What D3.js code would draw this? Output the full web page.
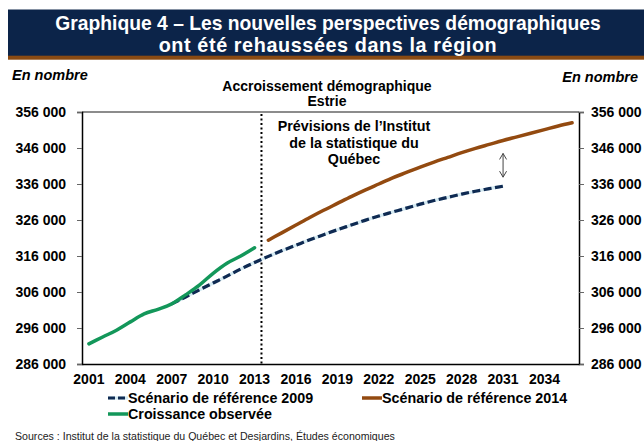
<!DOCTYPE html>
<html><head><meta charset="utf-8">
<script src="https://cdn.jsdelivr.net/npm/d3@7"></script>
<style>body{margin:0;background:#fff}svg{display:block;font-family:Arial,"Liberation Sans",sans-serif}</style>
</head><body><svg id="c" width="644" height="441"></svg>
<script>
const years = d3.range(2001, 2037);
const tickYears = [2001,2004,2007,2010,2013,2016,2019,2022,2025,2028,2031,2034];
const yTicks = [286000,296000,306000,316000,326000,336000,346000,356000];
const observedYears = d3.range(2001, 2014);
const observed = [291.6,293.5,295.4,297.7,299.9,301.2,302.7,305.2,307.9,311.2,314.0,316.0,318.3];
const scen2009Years = d3.range(2007, 2032);
const scen2009 = [302.7,304.6,306.6,308.5,310.4,312.4,314.2,315.9,317.5,319.0,320.5,321.9,323.3,324.6,325.9,327.1,328.2,329.3,330.4,331.4,332.3,333.2,334.0,334.7,335.4];
const scen2014Years = d3.range(2014, 2037);
const scen2014 = [320.4,322.5,324.6,326.7,328.7,330.6,332.5,334.3,336.0,337.7,339.2,340.7,342.1,343.4,344.7,345.9,347.0,348.1,349.1,350.1,351.1,352.1,353.0];
const seriesNames = ["Scénario de référence 2009","Scénario de référence 2014","Croissance observée"];

const svg = d3.select("#c");
const L = 82, R = 579, T = 112, B = 364;
const x = d3.scaleBand().domain(years).range([L, R]);
const xc = yr => x(yr) + x.bandwidth()/2;
const y = d3.scaleLinear().domain([286000, 356000]).range([B, T]);
const fmt = v => d3.format(",")(v).replace(/,/g, " ");

// Title banner
svg.append("rect").attr("x",8).attr("y",9.5).attr("width",636).attr("height",47).attr("fill","#0c2449");
svg.append("rect").attr("x",8).attr("y",55.7).attr("width",636).attr("height",4).attr("fill","#8a4a12");
svg.append("text").attr("x",328).attr("y",30).attr("text-anchor","middle").attr("fill","#fff")
  .attr("font-weight","bold").attr("font-size",19.3).text("Graphique 4 – Les nouvelles perspectives démographiques");
svg.append("text").attr("x",328).attr("y",52).attr("text-anchor","middle").attr("fill","#fff")
  .attr("font-weight","bold").attr("font-size",19.8).attr("letter-spacing",0.6).text("ont été rehaussées dans la région");

// Unit labels
svg.append("text").attr("x",12).attr("y",80).attr("font-style","italic").attr("font-weight","bold").attr("font-size",14.5).text("En nombre");
svg.append("text").attr("x",638).attr("y",82).attr("text-anchor","end").attr("font-style","italic").attr("font-weight","bold").attr("font-size",14.5).text("En nombre");

// Chart title
svg.append("text").attr("x",327).attr("y",91).attr("text-anchor","middle").attr("font-weight","bold").attr("font-size",14).text("Accroissement démographique");
svg.append("text").attr("x",327).attr("y",106).attr("text-anchor","middle").attr("font-weight","bold").attr("font-size",14).text("Estrie");

// Frame top
svg.append("line").attr("x1",L).attr("x2",R).attr("y1",T).attr("y2",T).attr("stroke","#8c8c8c").attr("stroke-width",2);

// Axes
const yl = svg.append("g").attr("transform",`translate(${L},0)`).call(d3.axisLeft(y).tickValues(yTicks).tickFormat(fmt).tickSize(5).tickPadding(11));
const yr = svg.append("g").attr("transform",`translate(${R},0)`).call(d3.axisRight(y).tickValues(yTicks).tickFormat(fmt).tickSize(5).tickPadding(7));
const xa = svg.append("g").attr("transform",`translate(0,${B})`).call(d3.axisBottom(x).tickValues(tickYears).tickSize(0).tickPadding(10));
[yl, yr, xa].forEach(g => {
  g.selectAll("text").attr("font-weight","bold").attr("font-size",14).attr("fill","#000").attr("font-family","Arial, Liberation Sans, sans-serif");
  g.select(".domain").attr("stroke","#000").attr("stroke-width",1.5);
  g.selectAll(".tick line").attr("stroke","#666");
});

// Vertical dotted separator
const sepX = x(2014);
svg.append("line").attr("x1",sepX).attr("x2",sepX).attr("y1",T+2).attr("y2",B)
  .attr("stroke","#000").attr("stroke-width",2).attr("stroke-dasharray","2,2.5");

// Annotation
["Prévisions de l’Institut","de la statistique du","Québec"].forEach((t,i) =>
  svg.append("text").attr("x",354).attr("y",131+i*16.5).attr("text-anchor","middle").attr("font-weight","bold").attr("font-size",14.3).text(t));

const line = d3.line().curve(d3.curveMonotoneX);
const ptsObs = observedYears.map((yy,i)=>[xc(yy), y(observed[i]*1000)]);
const pts09 = scen2009Years.map((yy,i)=>[xc(yy), y(scen2009[i]*1000)]);
const pts14 = scen2014Years.map((yy,i)=>[xc(yy), y(scen2014[i]*1000)]);

// 2009 scenario: light line under navy dashes
svg.append("path").attr("d",line(pts09)).attr("fill","none").attr("stroke","#d4eaf2").attr("stroke-width",3.2);
svg.append("path").attr("d",line(pts09)).attr("fill","none").attr("stroke","#0f2a52").attr("stroke-width",3.2).attr("stroke-dasharray","8,3.5");
svg.append("path").attr("d",line(pts14)).attr("fill","none").attr("stroke","#934a10").attr("stroke-width",3.5).attr("stroke-linecap","round");
svg.append("path").attr("d",line(ptsObs)).attr("fill","none").attr("stroke","#13975a").attr("stroke-width",3.5).attr("stroke-linecap","round");

// Double arrow
const ax = xc(2031);
const a1 = y(348100)+13, a2 = y(335400)-9;
svg.append("line").attr("x1",ax).attr("x2",ax).attr("y1",a1).attr("y2",a2).attr("stroke","#444").attr("stroke-width",1);
svg.append("path").attr("d",`M${ax-3.5},${a1+6}L${ax},${a1}L${ax+3.5},${a1+6}`).attr("fill","none").attr("stroke","#444").attr("stroke-width",1);
svg.append("path").attr("d",`M${ax-3.5},${a2-6}L${ax},${a2}L${ax+3.5},${a2-6}`).attr("fill","none").attr("stroke","#444").attr("stroke-width",1);

// Legend
const leg = [
  {name:seriesNames[0], x:108, y:398, type:"dash"},
  {name:seriesNames[1], x:362, y:398, color:"#934a10"},
  {name:seriesNames[2], x:108, y:414, color:"#13975a"}
];
leg.forEach(d => {
  if (d.type==="dash") {
    svg.append("line").attr("x1",d.x).attr("x2",d.x+20).attr("y1",d.y).attr("y2",d.y).attr("stroke","#d4eaf2").attr("stroke-width",3.2);
    svg.append("line").attr("x1",d.x).attr("x2",d.x+20).attr("y1",d.y).attr("y2",d.y).attr("stroke","#0f2a52").attr("stroke-width",3.2).attr("stroke-dasharray","7,3");
  } else {
    svg.append("line").attr("x1",d.x).attr("x2",d.x+20).attr("y1",d.y).attr("y2",d.y).attr("stroke",d.color).attr("stroke-width",3.5);
  }
  svg.append("text").attr("x",d.x+20).attr("y",d.y+5).attr("font-weight","bold").attr("font-size",14.3).text(d.name);
});

// Source
svg.append("text").attr("x",15).attr("y",440).attr("font-size",10.6).attr("fill","#222")
  .text("Sources : Institut de la statistique du Québec et Desjardins, Études économiques");
</script></body></html>
